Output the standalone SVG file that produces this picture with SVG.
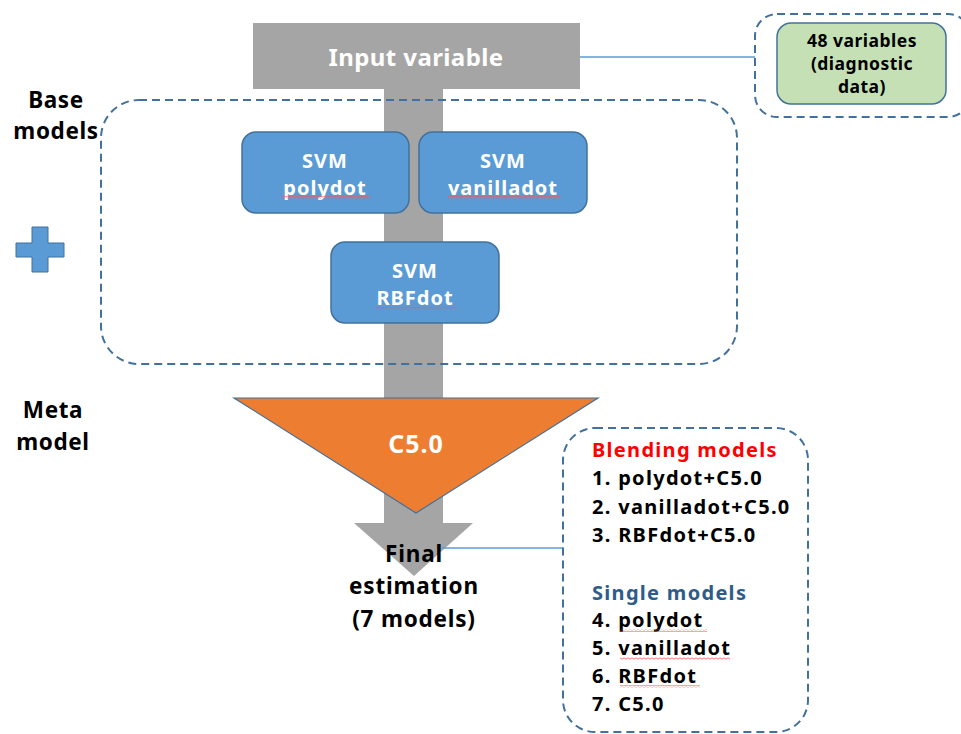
<svg xmlns="http://www.w3.org/2000/svg" width="961" height="734" viewBox="0 0 961 734">
<defs>
<style>
text{font-family:"Noto Sans","Open Sans","Liberation Sans",sans-serif;font-weight:bold;}
.w{fill:#ffffff;font-size:20px;letter-spacing:1px;text-anchor:middle;}
.k{fill:#000000;}
.dash{fill:none;stroke:#41719c;stroke-width:2;stroke-dasharray:8 5;}
.svm{fill:#5b9bd5;stroke:#41719c;stroke-width:1.5;}
.gray{fill:#a5a5a5;}
.lst{font-size:20px;letter-spacing:1.3px;fill:#000;}
.sq{fill:url(#wave);}
</style>
<pattern id="wave" patternUnits="userSpaceOnUse" width="4" height="3">
<path d="M0,0.8 L2,2.2 L4,0.8" fill="none" stroke="#ff5050" stroke-width="0.8"/>
</pattern>
</defs>
<rect width="961" height="734" fill="#ffffff"/>

<g id="arrow-shaft">
<rect class="gray" x="253" y="23" width="327" height="66"/>
<rect class="gray" x="384" y="89" width="59" height="436"/>
<polygon class="gray" points="354,523 473,523 414,576"/>
</g>

<g id="input-variable">
<text x="416" y="66" class="w" style="font-size:24px;letter-spacing:0.4px">Input variable</text>
</g>

<g id="group-box-top">
<rect class="dash" x="755" y="14" width="215" height="103" rx="22"/>
</g>

<g id="vars-node">
<rect x="777" y="23" width="169" height="81" rx="14" fill="#c5e0b4" stroke="#41719c" stroke-width="1.5"/>
<text x="862" y="47" class="k" font-size="17.5" letter-spacing="0.5" text-anchor="middle">48 variables</text>
<text x="862" y="70" class="k" font-size="17.5" letter-spacing="0.5" text-anchor="middle">(diagnostic</text>
<text x="862" y="93" class="k" font-size="17.5" letter-spacing="0.5" text-anchor="middle">data)</text>
</g>

<g id="base-models-box">
<rect class="dash" x="101" y="100" width="636" height="264" rx="38"/>
</g>

<g id="label-base">
<text x="56" y="108" class="k" font-size="22.5" letter-spacing="0.6" text-anchor="middle">Base</text>
<text x="56" y="139" class="k" font-size="22.5" letter-spacing="0.6" text-anchor="middle">models</text>
</g>

<g id="plus">
<path d="M32,227 H48 V243 H64 V257 H48 V272 H32 V257 H16 V243 H32 Z" fill="#5b9bd5" stroke="#41719c" stroke-width="1"/>
</g>

<g id="svm-polydot">
<rect class="svm" x="242" y="132" width="167" height="81" rx="14"/>
<text x="325" y="168" class="w">SVM</text>
<text x="325" y="195" class="w">polydot</text>
<rect class="sq" x="282" y="196" width="88" height="3"/>
</g>

<g id="svm-vanilladot">
<rect class="svm" x="419" y="132" width="168" height="81" rx="14"/>
<text x="503" y="168" class="w">SVM</text>
<text x="503" y="195" class="w">vanilladot</text>
<rect class="sq" x="448" y="196" width="112" height="3"/>
</g>

<g id="svm-rbfdot">
<rect class="svm" x="331" y="242" width="168" height="81" rx="14"/>
<text x="415" y="278" class="w">SVM</text>
<text x="415" y="305" class="w">RBFdot</text>
<rect class="sq" x="375" y="307" width="82" height="3"/>
</g>

<g id="label-meta">
<text x="53" y="418" class="k" font-size="22.5" letter-spacing="0.6" text-anchor="middle">Meta</text>
<text x="53" y="450" class="k" font-size="22.5" letter-spacing="0.6" text-anchor="middle">model</text>
</g>

<g id="c50">
<polygon points="234,398 598,398 416,513" fill="#ed7d31" stroke="#41719c" stroke-width="1.2"/>
<text x="416" y="453" class="w" style="font-size:25px;letter-spacing:1px">C5.0</text>
</g>

<g id="final">
<text x="414" y="562" class="k" font-size="22.5" letter-spacing="0.8" text-anchor="middle">Final</text>
<text x="414" y="594" class="k" font-size="22.5" letter-spacing="0.8" text-anchor="middle">estimation</text>
<text x="414" y="627" class="k" font-size="22.5" letter-spacing="0.8" text-anchor="middle">(7 models)</text>
</g>

<g id="connectors">
<line x1="580" y1="57" x2="755" y2="57" stroke="#5b9bd5" stroke-width="1.5"/>
<line x1="442" y1="548" x2="563" y2="548" stroke="#5b9bd5" stroke-width="1.5"/>
</g>

<g id="models-list">
<rect class="dash" x="563" y="428" width="245" height="304" rx="32"/>
<text x="592" y="457" font-size="20" letter-spacing="1.3" fill="#ff0000">Blending models</text>
<text x="592" y="485" class="lst">1. polydot+C5.0</text>
<text x="592" y="514" class="lst">2. vanilladot+C5.0</text>
<text x="592" y="542" class="lst">3. RBFdot+C5.0</text>
<text x="592" y="600" font-size="20" letter-spacing="1.3" fill="#2e5c8a">Single models</text>
<text x="592" y="627" class="lst">4. polydot</text>
<text x="592" y="655" class="lst">5. vanilladot</text>
<text x="592" y="683" class="lst">6. RBFdot</text>
<text x="592" y="711" class="lst">7. C5.0</text>
<rect class="sq" x="620" y="629" width="87" height="3"/>
<rect class="sq" x="620" y="657" width="110" height="3"/>
<rect class="sq" x="620" y="685" width="80" height="3"/>
</g>
</svg>
